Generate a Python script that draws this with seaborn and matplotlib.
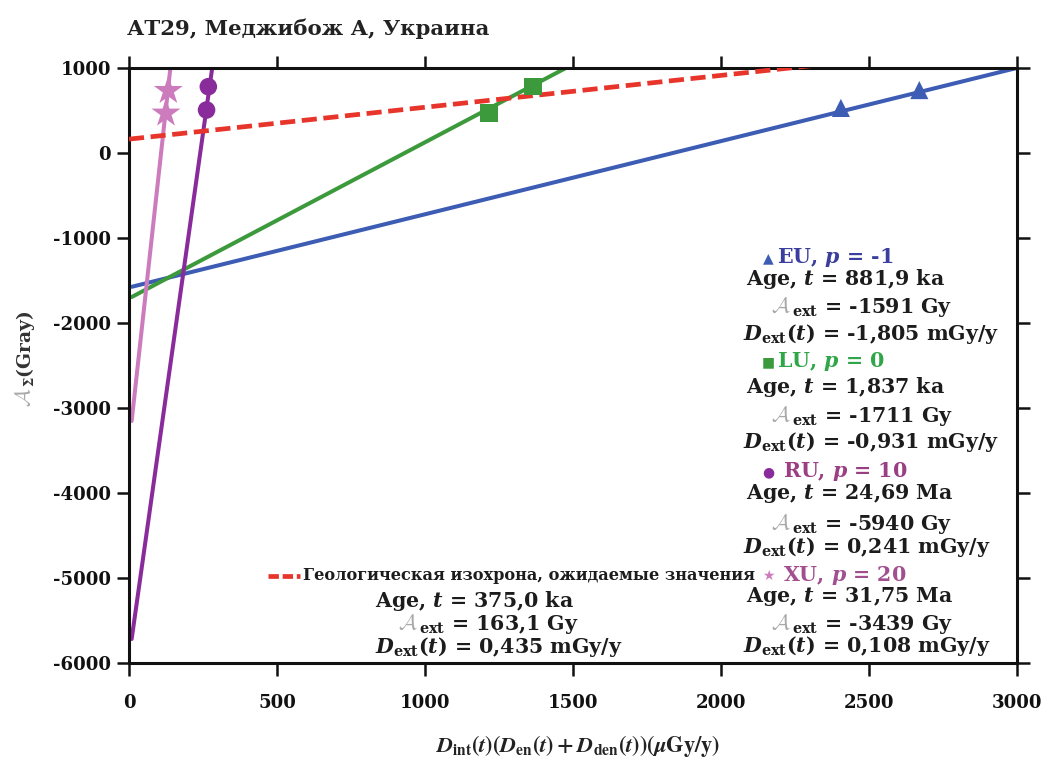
import numpy as np
import pandas as pd
import matplotlib
matplotlib.use("Agg")
import matplotlib.pyplot as plt
from matplotlib.lines import Line2D
import seaborn as sns

# ---------------- data ----------------
series = ["EU", "LU", "RU", "XU"]
line_intercept = [-1582, -1711, -5940, -3439]
line_slope = [0.861, 1.837, 24.69, 31.75]
line_x_start = 9
eu_x = [2405, 2670]; eu_y = [530, 740]
lu_x = [1216, 1364]; lu_y = [470, 780]
ru_x = [262, 268];   ru_y = [506, 780]
xu_x = [125, 133];   xu_y = [467, 733]
geo_intercept = 163.1
geo_slope = 0.375

p_values = ["-1", "0", "10", "20"]
ages = ["881,9 ka", "1,837 ka", "24,69 Ma", "31,75 Ma"]
a_ext = ["-1591", "-1711", "-5940", "-3439"]
d_ext = ["-1,805", "-0,931", "0,241", "0,108"]
geo_age = "375,0 ka"
geo_a_ext = "163,1"
geo_d_ext = "0,435"
geo_label = "Геологическая изохрона, ожидаемые значения"
title = "АТ29, Меджибож А, Украина"

x_ticks = [0, 500, 1000, 1500, 2000, 2500, 3000]
y_ticks = [-6000, -5000, -4000, -3000, -2000, -1000, 0, 1000]
y_tick_labels = ["-6000", "-5000", "-4000", "-3000", "-2000", "-1000", "0", "1000"]

line_colors = {"EU": "#3d5cb4", "LU": "#3c9a3c", "RU": "#8a2b9c", "XU": "#cc7cbd"}
head_colors = {"EU": "#3a3f9e", "LU": "#2fa648", "RU": "#9b3f83", "XU": "#a24f8f"}
markers = {"EU": "^", "LU": "s", "RU": "o", "XU": "*"}
marker_sizes = {"EU": 170, "LU": 160, "RU": 160, "XU": 480}
glyphs = {"EU": "▲", "LU": "■", "RU": "●", "XU": "★"}
geo_color = "#e8352c"

# ---------------- style ----------------
sns.set_style("ticks")
plt.rcParams["font.family"] = ["DejaVu Serif", "DejaVu Sans"]
plt.rcParams["font.weight"] = "bold"
plt.rcParams["mathtext.fontset"] = "custom"
plt.rcParams["mathtext.rm"] = "DejaVu Serif:bold"
plt.rcParams["mathtext.it"] = "DejaVu Serif:italic:bold"
plt.rcParams["mathtext.bf"] = "DejaVu Serif:bold"
plt.rcParams["axes.unicode_minus"] = False

W, H = 1041, 758
fig = plt.figure(figsize=(W / 100, H / 100), dpi=100)
ax = fig.add_axes([129 / W, 1 - 663 / H, (1017 - 129) / W, (663 - 68) / H])

# ---------------- lines ----------------
xs = np.array([line_x_start, 3000.0])
rows = []
for s, b, m in zip(series, line_intercept, line_slope):
    for xv in xs:
        rows.append({"series": s, "x": xv, "y": b + m * xv})
lines_df = pd.DataFrame(rows)
sns.lineplot(data=lines_df, x="x", y="y", hue="series", palette=line_colors,
             linewidth=2.9, legend=False, ax=ax, zorder=2)

geo_df = pd.DataFrame({"x": [0.0, 3000.0],
                       "y": [geo_intercept, geo_intercept + geo_slope * 3000]})
sns.lineplot(data=geo_df, x="x", y="y", color=geo_color, linewidth=3.4,
             dashes=False, ax=ax, zorder=3)
ax.lines[-1].set_dashes((3.2, 1.4))

# ---------------- points ----------------
pts = {"EU": (eu_x, eu_y), "LU": (lu_x, lu_y), "RU": (ru_x, ru_y), "XU": (xu_x, xu_y)}
for s in series:
    px, py = pts[s]
    sns.scatterplot(x=px, y=py, marker=markers[s], s=marker_sizes[s],
                    color=line_colors[s], edgecolor="none", ax=ax, zorder=4)

# ---------------- axes ----------------
ax.set_xlim(0, 3000)
ax.set_ylim(-6000, 1000)
ax.set_xticks(x_ticks)
ax.set_xticklabels([str(v) for v in x_ticks])
ax.set_yticks(y_ticks)
ax.set_yticklabels(y_tick_labels)
ax.tick_params(direction="out", length=9, width=1.8, top=True, right=True,
               labelsize=13.1, colors="#111111")
ax.tick_params(axis="x", pad=13)
ax.tick_params(axis="y", pad=4)
for sp in ax.spines.values():
    sp.set_linewidth(2.2)
    sp.set_color("#111111")
    sp.set_visible(True)
ax.set_xlabel("")
ax.set_ylabel("")

renderer = fig.canvas.get_renderer()


def ftxt(x, y, s, **kw):
    kw.setdefault("va", "baseline")
    kw.setdefault("ha", "left")
    return fig.text(x / W, 1 - y / H, s, **kw)


FS = 14.8
TXT = "#1c1c1c"
GREY = "#a8a8a8"


def a_line(x, y, val):
    tA = ftxt(x, y, r"$\mathcal{A}$", math_fontfamily="cm", color=GREY, fontsize=FS + 1)
    bb = tA.get_window_extent(renderer)
    ftxt(bb.x1 + 1, y, r"${}_{\mathrm{ext}}$ = " + val + " Gy", color=TXT, fontsize=FS)


# title
ftxt(127, 35, title, fontsize=15.3, color="#222222")

# x label
fig.text(577 / W, 1 - 752 / H,
         r"$D_{\rm int}(t)(D_{\rm en}(t) + D_{\rm den}(t))(\mu{\rm Gy/y})$",
         math_fontfamily="stix", fontsize=16, ha="center", va="baseline", color="#222222")

# y label (rotated): grey A, then rest
ty = fig.text(31 / W, 1 - 407 / H, r"$\mathcal{A}$", math_fontfamily="cm",
              rotation=90, rotation_mode="anchor", ha="left", va="baseline",
              fontsize=15.5, color=GREY)
bby = ty.get_window_extent(renderer)
fig.text(31 / W, (bby.y1 + 1) / H, r"${}_{\Sigma}$(Gray)", rotation=90,
         rotation_mode="anchor", ha="left", va="baseline", fontsize=13.5, color="#333333")

# right annotation blocks
head_y = [263, 367, 477, 581]
age_y = [285, 393, 499, 602]
aext_y = [313, 422, 530, 630]
dext_y = [340, 448, 553, 652]
head_x = [777, 777, 783, 783]
for i, s in enumerate(series):
    ftxt(768, head_y[i] - 1, glyphs[s], family="DejaVu Sans", fontsize=10,
         color=line_colors[s], ha="center")
    ftxt(head_x[i], head_y[i], s + ", $p$ = " + p_values[i], fontsize=FS, color=head_colors[s])
    ftxt(746, age_y[i], "Age, $t$ = " + ages[i], fontsize=FS, color=TXT)
    a_line(771, aext_y[i], a_ext[i])
    ftxt(743, dext_y[i], r"$D_{\mathrm{ext}}(t)$ = " + d_ext[i] + " mGy/y", fontsize=FS, color=TXT)

# bottom geological isochron block
fig.add_artist(Line2D([268 / W, 300 / W], [1 - 576 / H, 1 - 576 / H],
                      color=geo_color, linewidth=3.4, dashes=(2.2, 0.8)))
ftxt(303, 580, geo_label, fontsize=11.6, color=TXT)
ftxt(375, 607, "Age, $t$ = " + geo_age, fontsize=FS, color=TXT)
a_line(398, 630, geo_a_ext)
ftxt(375, 653, r"$D_{\mathrm{ext}}(t)$ = " + geo_d_ext + " mGy/y", fontsize=FS, color=TXT)

fig.savefig("out.png", dpi=100)
